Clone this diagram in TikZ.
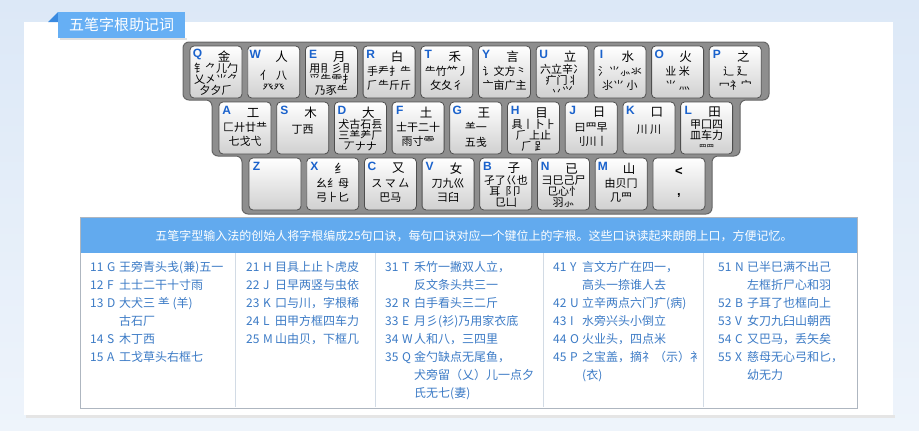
\documentclass[tikz,border=0pt]{standalone}
\usepackage{fontspec}
\newfontfamily\cjk{Noto Sans CJK SC}
\newfontfamily\keyfont{Liberation Sans}
\usepackage{xcolor}
\usepackage{tikz}
\usetikzlibrary{positioning}

\definecolor{bgtop}{HTML}{DCE8F7}
\definecolor{bgbot}{HTML}{EEF4FB}
\definecolor{tabblue}{HTML}{66AFF4}
\definecolor{tabdark}{HTML}{3A8AE0}
\definecolor{headblue}{HTML}{62AAEE}
\definecolor{textblue}{HTML}{3C7BC6}
\definecolor{keyblue}{HTML}{1A62CC}
\definecolor{frameg}{HTML}{8E8E8E}
\definecolor{framee}{HTML}{666666}
\definecolor{keyedge}{HTML}{4E4E4E}
\definecolor{keylow}{HTML}{D0D0D0}
\definecolor{gridline}{HTML}{D2DBE5}
\definecolor{tabline}{HTML}{AEB6C0}

\tikzset{
  keycap/.style={draw=keyedge, line width=0.8pt, rounded corners=4pt, top color=white, bottom color=keylow, minimum width=52pt, minimum height=52pt, inner sep=0pt},
  keyletter/.style={font=\keyfont\bfseries\fontsize{12}{12}\selectfont, text=keyblue, inner sep=0pt},
  keytop/.style={font=\cjk\fontsize{12.5}{12.5}\selectfont, inner sep=0pt},
  keybody/.style={align=center, inner sep=0pt},
  koujue/.style={font=\cjk\fontsize{12}{13}\selectfont, text=textblue, inner sep=0pt, anchor=base west},
}

\begin{document}
\begin{tikzpicture}[x=1pt,y=-1pt]
\useasboundingbox (0,0) rectangle (919,431);
% background and white panel
\fill[top color=bgtop, bottom color=bgbot] (0,0) rectangle (919,431);
\fill[black!10] (26,415) rectangle (895,418);
\fill[white] (24,22) rectangle (893,415);
% title tab
\fill[tabdark] (48,22) -- (58,12) -- (58,22) -- cycle;
\fill[black!12] (60,38) rectangle (187,40);
\fill[tabblue] (58,12) rectangle (185,38);
\node[text=white, font=\cjk\fontsize{15}{15}\selectfont, inner sep=0pt] (title) at (121.5,25) {五笔字根助记词};

% keyboard frame
\draw[fill=frameg, draw=framee, line width=1pt, rounded corners=6pt]
  (183,42) -- (769,42) -- (769,100) -- (740,100) -- (740,156) -- (712,156) -- (712,214)
  -- (242,214) -- (242,156) -- (212,156) -- (212,100) -- (183,100) -- cycle;

% keys: letter / x / y / top root / other roots / body shift / line skip
\foreach \key/\kx/\ky/\ktop/\kbody/\koff/\kskip in {
  Q/216/72/金/{钅⺈儿勹\\乂㐅⺌⺈\\夕夕⺁}/7.5/11,
  W/273.7/72/人/{亻\ \ 八\\癶癶}/9/12.5,
  E/331.4/72/月/{用⺝彡⺝\\⺤⺧⻗⺘\\乃豕⺧}/7.5/11,
  R/389.1/72/白/{手龵扌⺧\\⺁⺧斤斤}/6.5/14.5,
  T/446.8/72/禾/{⺧竹⺮丿\\攵夂彳}/6.5/14.5,
  Y/504.5/72/言/{讠文方⺀\\亠亩广主}/6.5/14.5,
  U/562.2/72/立/{六立辛冫\\疒门丬\\丷⺍}/7.5/11,
  I/619.9/72/水/{氵⺌⺗氺\\⺢⺌\ 小}/6.5/14.5,
  O/677.6/72/火/{业\ 米\\⺌\ 灬}/6.5/14.5,
  P/735.3/72/之/{辶\ 廴\\冖礻宀}/6.5/14.5,
  A/245/128/工/{匚廾廿龷\\七戈弋}/6.5/14.5,
  S/302.7/128/木/{丁西}/2/12,
  D/360.4/128/大/{犬古石镸\\三⺷⺶厂\\丆ナナ}/7.5/11,
  F/418.1/128/土/{士干二十\\雨寸⻗}/6.5/14.5,
  G/475.8/128/王/{⺷一\\五戋}/6.5/14.5,
  H/533.5/128/目/{具丨卜⺊\\⺁\ 上止\\⺁\ ⻊}/7.5/11,
  J/591.2/128/日/{曰⺲早\\刂川丨}/6.5/14.5,
  K/648.9/128/口/{川\ 川}/2/12,
  L/706.6/128/田/{甲囗四\\皿车力\\{\fontsize{7.5}{7.5}\selectfont ⺲⺲}}/7.5/11,
  Z/275/184/{}/{}/0/12,
  X/332.7/184/纟/{幺纟母\\弓⺊匕}/6.5/14.5,
  C/390.4/184/又/{ス\ マ\ 厶\\巴马}/6.5/14.5,
  V/448.1/184/女/{刀九巛\\彐臼}/6.5/14.5,
  B/505.8/184/子/{孑了巜也\\耳⻏卩\\⺋凵}/7.5/11,
  N/563.5/184/已/{⺕巳己尸\\⺋心⺖\\羽⺗}/7.5/11,
  M/621.2/184/山/{由贝冂\\几⺫}/6.5/14.5}{
  \node[keycap] (k\key) at (\kx,\ky) {};
  \node[keyletter] (l\key) at ([xshift=8,yshift=-9]k\key.north west) {\key};
  \node[keytop] (t\key) at ([xshift=8,yshift=-11]k\key.north) {\ktop};
  \node[keybody, font={\cjk\fontsize{11}{\kskip}\selectfont}] (b\key) at ([yshift=-\koff]k\key.center) {\kbody};
}
\node[keycap] (kcomma) at (678.9,184) {};
\node[keybody, font=\keyfont\bfseries\fontsize{13}{20}\selectfont] (bcomma) at ([yshift=1]kcomma.center) {<\\,};

% table of the 25 verses
\fill[headblue] (80,217) rectangle (857,253);
\foreach \gx in {235,375,543,703}
  \draw[gridline] (\gx,253) -- (\gx,407);
\draw[tabline] (80,217) rectangle (857,408);
\node[text=white, font=\cjk\fontsize{12}{13}\selectfont, inner sep=0pt] (head) at (474,236)
  {五笔字型输入法的创始人将字根编成25句口诀，每句口诀对应一个键位上的字根。这些口诀读起来朗朗上口，方便记忆。};

\foreach \n/\l/\x/\y/\t [count=\i] in {
  11/G/90/267/王旁青头戋(兼)五一,
  12/F/90/285/土士二干十寸雨,
  13/D/90/303/大犬三 ⺷ (羊),
  14/S/90/339/木丁西,
  15/A/90/357/工戈草头右框七,
  21/H/246/267/目具上止卜虎皮,
  22/J/246/285/日早两竖与虫依,
  23/K/246/303/口与川，字根稀,
  24/L/246/321/田甲方框四车力,
  25/M/246/339/山由贝，下框几,
  31/T/385/267/禾竹一撇双人立，,
  32/R/385/303/白手看头三二斤,
  33/E/385/321/月彡(衫)乃用家衣底,
  34/W/385/339/人和八，三四里,
  35/Q/385/357/金勺缺点无尾鱼，,
  41/Y/553/267/言文方广在四一，,
  42/U/553/303/立辛两点六门疒(病),
  43/I/553/321/水旁兴头小倒立,
  44/O/553/339/火业头，四点米,
  45/P/553/357/之宝盖，摘礻（示）衤,
  51/N/718/267/已半巳满不出己,
  52/B/718/303/子耳了也框向上,
  53/V/718/321/女刀九臼山朝西,
  54/C/718/339/又巴马，丢矢矣,
  55/X/718/357/慈母无心弓和匕，}{
  \node[koujue] (num\i) at (\x,{\y+4.5}) {\n};
  \node[koujue] (let\i) at ({\x+17},{\y+4.5}) {\l};
  \node[koujue] (txt\i) at ({\x+29},{\y+4.5}) {\t};
}
% second lines of the longer verses
\foreach \x/\y/\t [count=\i] in {
  90/321/古石厂,
  385/285/反文条头共三一,
  385/375/犬旁留（乂）儿一点夕,
  385/393/氏无七(妻),
  553/285/高头一捺谁人去,
  553/375/(衣),
  718/285/左框折尸心和羽,
  718/375/幼无力}{
  \node[koujue] (more\i) at ({\x+29},{\y+4.5}) {\t};
}
\end{tikzpicture}
\end{document}
